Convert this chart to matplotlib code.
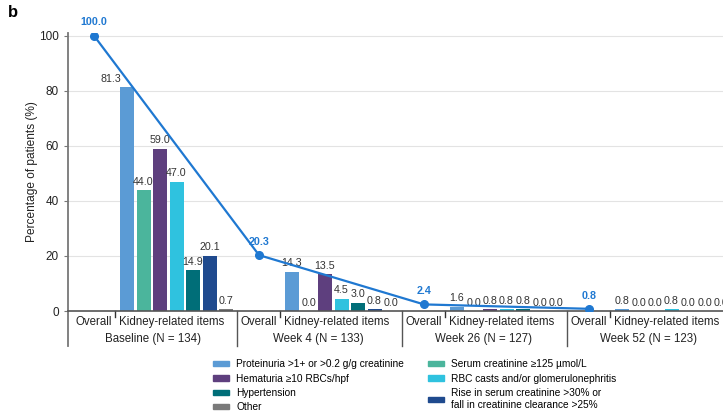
import matplotlib.pyplot as plt
import matplotlib.transforms as mtransforms
from matplotlib.patches import Patch

plt.rcParams['font.family'] = ['Liberation Sans', 'DejaVu Sans']

timepoints = ["Baseline (N = 134)", "Week 4 (N = 133)", "Week 26 (N = 127)", "Week 52 (N = 123)"]
overall = [100.0, 20.3, 2.4, 0.8]

items = ["Proteinuria >1+ or >0.2 g/g creatinine",
         "Serum creatinine \u2265125 \u00b5mol/L",
         "Hematuria \u226510 RBCs/hpf",
         "RBC casts and/or glomerulonephritis",
         "Hypertension",
         "Rise in serum creatinine >30% or\nfall in creatinine clearance >25%",
         "Other"]
colors = ["#5b9bd5", "#4bb59c", "#5e3f7e", "#2fc2df", "#006e78", "#1f4a8e", "#7a7a7a"]

# rows = time points, columns = kidney-related items (same order as `items`)
item_values = [
    [81.3, 44.0, 59.0, 47.0, 14.9, 20.1, 0.7],
    [14.3, 0.0, 13.5, 4.5, 3.0, 0.8, 0.0],
    [1.6, 0.0, 0.8, 0.8, 0.8, 0.0, 0.0],
    [0.8, 0.0, 0.0, 0.8, 0.0, 0.0, 0.0],
]

line_blue = "#1f78d1"
axis_grey = "#777777"

fig = plt.figure(figsize=(7.23, 4.12), dpi=100)
ax = fig.add_axes([0.094, 0.2451, 0.906, 0.6748])

group_step = 10
overall_x = [g * group_step for g in range(len(timepoints))]

# kidney-related bars
for g, vals in enumerate(item_values):
    for i, v in enumerate(vals):
        x = g * group_step + 2 + i
        ax.bar(x, v, width=0.85, color=colors[i], zorder=2)
        # first baseline label sits left so the overall line doesn't cross it
        dx = -0.95 if (g == 0 and i == 0) else 0
        ax.text(x + dx, v + 1.2, f"{v:.1f}", ha="center", va="bottom",
                fontsize=7.7, color="#333333", zorder=4)

# overall line
ax.plot(overall_x, overall, color=line_blue, lw=1.6, marker="o", ms=5.5, zorder=5)
for x, v in zip(overall_x, overall):
    ax.text(x, v + 3.0, f"{v:.1f}", ha="center", va="bottom", fontsize=7.7,
            fontweight="bold", color=line_blue, zorder=6)

ax.set_xlim(-1.58, 38.12)
ax.set_ylim(0, 101)
ax.set_yticks([0, 20, 40, 60, 80, 100])
ax.set_xticks([])
ax.tick_params(axis="y", labelsize=8.5, colors="#222222", length=3, color=axis_grey)
ax.yaxis.grid(True, color="#e3e3e3", lw=0.8, zorder=0)
ax.set_axisbelow(True)
for s in ["top", "right"]:
    ax.spines[s].set_visible(False)
ax.spines["left"].set_color(axis_grey)
ax.spines["left"].set_linewidth(1.3)
ax.spines["left"].set_bounds(0, 101)
ax.spines["bottom"].set_color("#555555")
ax.spines["bottom"].set_linewidth(1.2)
ax.set_ylabel("Percentage of patients (%)", fontsize=8.6, color="#222222")
ax.yaxis.set_label_coords(-0.046, 0.5)

# category area below the axis
trans = mtransforms.blended_transform_factory(ax.transData, ax.transAxes)
ax.plot([-1.58, -1.58], [0, -0.125], transform=trans, color=axis_grey, lw=1.3, clip_on=False)
for g in range(len(timepoints)):
    base = g * group_step
    if g < len(timepoints) - 1:
        ax.plot([base + 8.67] * 2, [0, -0.125], transform=trans, color="#555555",
                lw=1.0, clip_on=False)
    ax.plot([base + 1.27] * 2, [0, -0.022], transform=trans, color="#333333",
            lw=1.0, clip_on=False)
    ax.text(base, -0.04, "Overall", transform=trans, ha="center", va="center",
            fontsize=8.3, color="#222222")
    ax.text(base + 1.5, -0.04, "Kidney-related items", transform=trans, ha="left",
            va="center", fontsize=8.3, color="#222222")
    ax.text(base + 3.6, -0.10, timepoints[g], transform=trans, ha="center",
            va="center", fontsize=8.3, color="#222222")

fig.text(0.011, 0.97, "b", fontsize=12, fontweight="bold", va="center")

order = [0, 2, 4, 6, 1, 3, 5]
handles = [Patch(color=colors[i], label=items[i]) for i in order]
fig.legend(handles=handles, ncol=2, loc="upper left", bbox_to_anchor=(0.2946, 0.128),
           frameon=False, fontsize=7.3, handlelength=1.6, handleheight=0.4,
           columnspacing=2.3, labelspacing=0.43, handletextpad=0.7,
           borderaxespad=0, borderpad=0)

fig.savefig("out.png", dpi=100)
